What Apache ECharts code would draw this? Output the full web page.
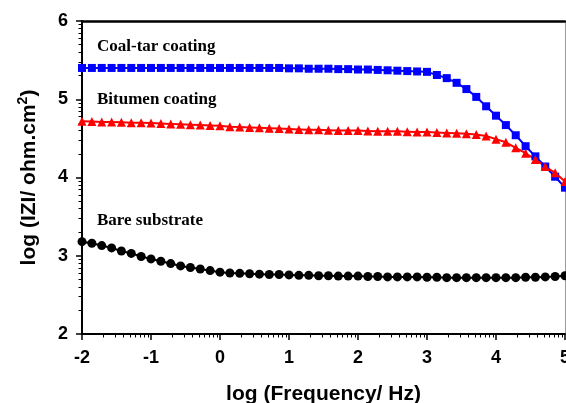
<!DOCTYPE html>
<html>
<head>
<meta charset="utf-8">
<script src="https://cdn.jsdelivr.net/npm/echarts@6/dist/echarts.min.js"></script>
<style>
  html, body { margin: 0; padding: 0; background: #fff; }
  #chart { width: 566px; height: 403px; }
</style>
</head>
<body>
<div id="chart"></div>
<script>
// Bode magnitude plot: log|Z| vs log frequency for three samples
const logFreq = [
  -2, -1.857, -1.714, -1.571, -1.429, -1.286, -1.143,
  -1, -0.857, -0.714, -0.571, -0.429, -0.286, -0.143,
  0, 0.143, 0.286, 0.429, 0.571, 0.714, 0.857,
  1, 1.143, 1.286, 1.429, 1.571, 1.714, 1.857,
  2, 2.143, 2.286, 2.429, 2.571, 2.714, 2.857,
  3, 3.143, 3.286, 3.429, 3.571, 3.714, 3.857,
  4, 4.143, 4.286, 4.429, 4.571, 4.714, 4.857,
  5
];

const coalTar = [
  5.40, 5.40, 5.40, 5.40, 5.40, 5.40, 5.40,
  5.40, 5.40, 5.40, 5.40, 5.40, 5.40, 5.40,
  5.40, 5.40, 5.40, 5.40, 5.40, 5.40, 5.40,
  5.395, 5.395, 5.39, 5.39, 5.39, 5.385, 5.385,
  5.38, 5.38, 5.375, 5.37, 5.365, 5.36, 5.355,
  5.35, 5.31, 5.27, 5.21, 5.13, 5.03, 4.91,
  4.79, 4.67, 4.54, 4.40, 4.27, 4.14, 4.01,
  3.87
];

const bitumen = [
  4.72, 4.715, 4.71, 4.71, 4.705, 4.70, 4.70,
  4.695, 4.69, 4.685, 4.68, 4.675, 4.67, 4.665,
  4.66, 4.65, 4.645, 4.64, 4.635, 4.63, 4.625,
  4.62, 4.615, 4.61, 4.61, 4.605, 4.60, 4.60,
  4.60, 4.595, 4.59, 4.59, 4.59, 4.585, 4.58,
  4.58, 4.575, 4.57, 4.565, 4.56, 4.55, 4.53,
  4.49, 4.45, 4.38, 4.31, 4.23, 4.14, 4.06,
  3.95
];

const bare = [
  3.18, 3.16, 3.13, 3.10, 3.06, 3.03, 2.99,
  2.96, 2.93, 2.90, 2.87, 2.85, 2.83, 2.81,
  2.79, 2.78, 2.775, 2.77, 2.765, 2.76, 2.76,
  2.755, 2.75, 2.75, 2.745, 2.745, 2.74, 2.74,
  2.74, 2.735, 2.735, 2.73, 2.73, 2.73, 2.73,
  2.725, 2.725, 2.72, 2.72, 2.72, 2.72, 2.72,
  2.72, 2.72, 2.72, 2.725, 2.725, 2.73, 2.735,
  2.745
];

const seriesNames = ['Coal-tar coating', 'Bitumen coating', 'Bare substrate'];
const xMin = -2, xMax = 5;
const yMin = 2, yMax = 6;
const xTitle = 'log (Frequency/ Hz)';
const yTitle = '{a|log (IZI/ ohm.cm}{s|2}{a|)}';

// minor ticks on a decade pattern: n + log10(k), k = 2..9
function decadeMinorTicks(lo, hi) {
  const out = [];
  for (let n = lo; n < hi; n++) {
    for (let k = 2; k <= 9; k++) out.push(n + Math.log10(k));
  }
  return out;
}

const pairs = ys => logFreq.map((x, i) => [x, ys[i]]);

const sansBold = '"Liberation Sans", Arial, sans-serif';
const tickFont = { fontFamily: sansBold, fontWeight: 'bold', fontSize: 18, color: '#000' };
const notesFont = 'bold 17px "Liberation Serif", "Times New Roman", serif';

const chart = echarts.init(document.getElementById('chart'), null, { renderer: 'canvas' });

chart.setOption({
  animation: false,
  backgroundColor: '#fff',
  grid: { left: 82, right: 1, top: 21, bottom: 69, outerBoundsMode: 'none', containLabel: false },
  xAxis: [
    {
      type: 'value', min: xMin, max: xMax, interval: 1, position: 'bottom',
      name: xTitle, nameLocation: 'middle', nameGap: 50,
      nameTextStyle: { fontFamily: sansBold, fontWeight: 'bold', fontSize: 21, color: '#000' },
      axisLine: { onZero: false, lineStyle: { color: '#000', width: 2 } },
      axisTick: { length: 6, lineStyle: { color: '#000', width: 1.5 } },
      axisLabel: Object.assign({ margin: 15, showMaxLabel: true }, tickFont),
      splitLine: { show: false }
    },
    {
      type: 'value', min: xMin, max: xMax, position: 'bottom',
      axisLine: { show: false, onZero: false },
      axisTick: { length: 3.5, customValues: decadeMinorTicks(xMin, xMax), lineStyle: { color: '#000', width: 1 } },
      axisLabel: { show: false },
      splitLine: { show: false }
    },
    {
      type: 'value', min: xMin, max: xMax, position: 'top',
      axisLine: { onZero: false, lineStyle: { color: '#000', width: 2.5 } },
      axisTick: { show: false }, axisLabel: { show: false }, splitLine: { show: false }
    }
  ],
  yAxis: [
    {
      type: 'value', min: yMin, max: yMax, interval: 1, position: 'left',
      name: yTitle, nameLocation: 'middle', nameGap: 40, nameRotate: 90,
      nameTextStyle: {
        rich: {
          a: { fontFamily: sansBold, fontWeight: 'bold', fontSize: 21, color: '#000', lineHeight: 26 },
          s: { fontFamily: sansBold, fontWeight: 'bold', fontSize: 14, color: '#000', verticalAlign: 'top', lineHeight: 14 }
        }
      },
      axisLine: { onZero: false, lineStyle: { color: '#000', width: 2 } },
      axisTick: { length: 6, lineStyle: { color: '#000', width: 1.5 } },
      axisLabel: Object.assign({ margin: 14 }, tickFont),
      splitLine: { show: false }
    },
    {
      type: 'value', min: yMin, max: yMax, position: 'left',
      axisLine: { show: false, onZero: false },
      axisTick: { length: 3.5, customValues: decadeMinorTicks(yMin, yMax), lineStyle: { color: '#000', width: 1 } },
      axisLabel: { show: false },
      splitLine: { show: false }
    },
    {
      type: 'value', min: yMin, max: yMax, position: 'right',
      axisLine: { onZero: false, lineStyle: { color: '#9a9a9a', width: 1 } },
      axisTick: { show: false }, axisLabel: { show: false }, splitLine: { show: false }
    }
  ],
  series: [
    {
      name: seriesNames[0], type: 'line', data: pairs(coalTar),
      symbol: 'rect', symbolSize: 8,
      lineStyle: { color: '#0000ff', width: 2 },
      itemStyle: { color: '#0000ff' }
    },
    {
      name: seriesNames[1], type: 'line', data: pairs(bitumen),
      symbol: 'triangle', symbolSize: 9,
      lineStyle: { color: '#ff0000', width: 2 },
      itemStyle: { color: '#ff0000' }
    },
    {
      name: seriesNames[2], type: 'line', data: pairs(bare),
      symbol: 'circle', symbolSize: 9,
      lineStyle: { color: '#000', width: 2 },
      itemStyle: { color: '#000' }
    }
  ],
  graphic: [
    { type: 'text', left: 97, top: 38, style: { text: seriesNames[0], font: notesFont, fill: '#000' } },
    { type: 'text', left: 97, top: 91, style: { text: seriesNames[1], font: notesFont, fill: '#000' } },
    { type: 'text', left: 97, top: 212, style: { text: seriesNames[2], font: notesFont, fill: '#000' } }
  ]
});
</script>
</body>
</html>
